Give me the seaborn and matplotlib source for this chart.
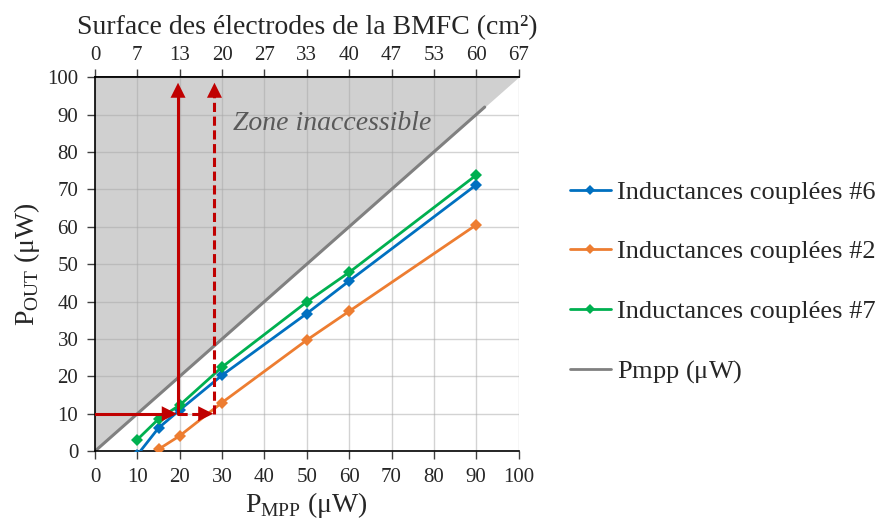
import numpy as np
import pandas as pd
import seaborn as sns
import matplotlib.pyplot as plt
from matplotlib.lines import Line2D

# Données (P_MPP en µW -> P_OUT en µW)
pmpp_l6 = [10, 15, 20, 30, 50, 60, 90]
pout_l6 = [-1.0, 6.2, 11.0, 20.3, 36.8, 45.5, 71.2]
pmpp_l2 = [15, 20, 30, 50, 60, 90]
pout_l2 = [0.5, 4.1, 13.0, 29.7, 37.4, 60.5]
pmpp_l7 = [10, 15, 20, 30, 50, 60, 90]
pout_l7 = [3.1, 8.6, 12.3, 22.5, 39.9, 47.8, 73.8]
pmpp_ref = [0, 92]
pout_ref = [0, 92]

series_names = ['Inductances couplées #6', 'Inductances couplées #2', 'Inductances couplées #7']
colors = ['#0070C0', '#ED7D31', '#00B050']

x_ticks = list(range(0, 101, 10))
top_labels = ['0', '7', '13', '20', '27', '33', '40', '47', '53', '60', '67']

# lecture de l'abaque : P_OUT visé et P_MPP requis
pout_target = 10
pmpp_needed = [19.6, 28.2]

df = pd.concat([
    pd.DataFrame({'pmpp': pmpp_l6, 'pout': pout_l6, 'serie': series_names[0]}),
    pd.DataFrame({'pmpp': pmpp_l2, 'pout': pout_l2, 'serie': series_names[1]}),
    pd.DataFrame({'pmpp': pmpp_l7, 'pout': pout_l7, 'serie': series_names[2]}),
])

sns.set_theme(style='white')
plt.rcParams['font.family'] = ['Liberation Serif', 'DejaVu Serif']
plt.rcParams['mathtext.fontset'] = 'custom'
plt.rcParams['mathtext.rm'] = 'Liberation Serif'

fig = plt.figure(figsize=(8.88, 5.32), dpi=100)
ax = fig.add_axes([0.107, 0.152, 0.477, 0.703])

# zone inaccessible (au-dessus de P_OUT = P_MPP)
xx = np.array([0, 100])
ax.fill_between(xx, xx, 100, color='#d0d0d0', zorder=0.3, linewidth=0)
ax.text(56, 87.5, 'Zone inaccessible', style='italic', color='#595959',
        fontsize=20, ha='center', va='center', zorder=1)

ax.plot(pmpp_ref, pout_ref, color='#808080', lw=2.2, zorder=2)

sns.lineplot(data=df, x='pmpp', y='pout', hue='serie', palette=colors,
             marker='D', markersize=6, markeredgewidth=0, lw=2, sort=False,
             legend=False, ax=ax, zorder=3)

# flèches rouges
red = '#C00000'
x1, x2 = pmpp_needed
ax.plot([0, x1 - 1.5], [pout_target, pout_target], color=red, lw=2.2, zorder=4)
ax.plot([x1, x2 - 1.5], [pout_target, pout_target], color=red, lw=2.2, ls=(0, (3, 1.5)), zorder=4)
ax.plot([x1, x1], [pout_target, 96], color=red, lw=2.2, zorder=4)
ax.plot([x2, x2], [pout_target, 96], color=red, lw=2.2, ls=(0, (3, 1.5)), zorder=4)
arr = dict(arrowstyle='-|>,head_length=0.9,head_width=0.45', color=red, lw=0, shrinkA=0, shrinkB=0)
ax.annotate('', xy=(x1 - 0.3, pout_target), xytext=(x1 - 3, pout_target), arrowprops=arr, zorder=5)
ax.annotate('', xy=(x2 - 0.3, pout_target), xytext=(x2 - 3, pout_target), arrowprops=arr, zorder=5)
ax.annotate('', xy=(x1, 98.5), xytext=(x1, 94), arrowprops=arr, zorder=5)
ax.annotate('', xy=(x2, 98.5), xytext=(x2, 94), arrowprops=arr, zorder=5)

ax.set_xlim(0, 100)
ax.set_ylim(0, 100)
ax.set_xticks(x_ticks)
ax.set_yticks(x_ticks)
ax.grid(True, color='#a8a8a8', alpha=0.5, lw=1)
ax.set_axisbelow(True)
for s in ['left', 'bottom', 'top']:
    ax.spines[s].set_color('#000000')
    ax.spines[s].set_linewidth(1.2)
ax.spines['right'].set_visible(False)
ax.tick_params(axis='both', which='major', direction='out', length=6, width=1,
               color='#404040', labelsize=15, left=True, bottom=True, pad=6)

ax.set_xlabel(r'P$_\mathregular{MPP}$ ($\mathregular{\mu}$W)', fontsize=20, labelpad=2)
ax.set_ylabel(r'P$_\mathregular{OUT}$ ($\mathregular{\mu}$W)', fontsize=20, labelpad=4)

top = ax.secondary_xaxis('top')
top.set_xticks(x_ticks)
top.set_xticklabels(top_labels)
top.tick_params(direction='out', length=6, width=1, color='#404040', labelsize=15, pad=3)
top.set_xlabel('Surface des électrodes de la BMFC (cm²)', fontsize=20, labelpad=8)

handles = [Line2D([0], [0], color=c, lw=2, marker='D', markersize=5, markeredgewidth=0)
           for c in colors]
handles.append(Line2D([0], [0], color='#808080', lw=2))
labels = series_names + [r'Pmpp ($\mathregular{\mu}$W)']
fig.legend(handles, labels, loc='center left', bbox_to_anchor=(0.630, 0.468),
           frameon=False, fontsize=19, handlelength=1.55, handletextpad=0.25,
           labelspacing=1.36, borderaxespad=0)

fig.savefig('out.png', dpi=100)
